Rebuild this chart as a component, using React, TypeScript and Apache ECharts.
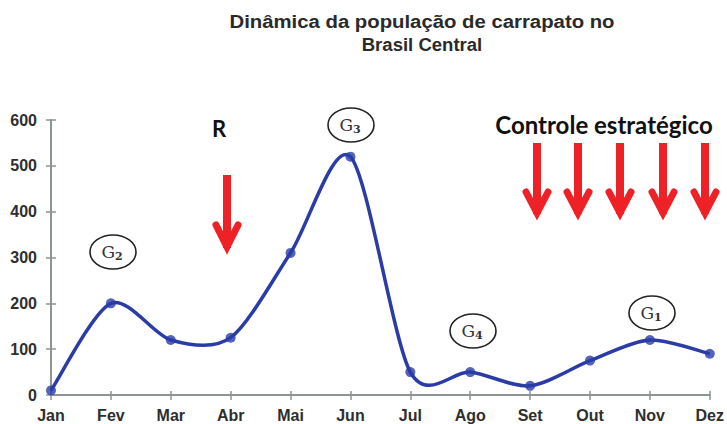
import React, { useEffect, useRef } from "react";
import * as echarts from "echarts";

const months = ["Jan", "Fev", "Mar", "Abr", "Mai", "Jun", "Jul", "Ago", "Set", "Out", "Nov", "Dez"];
const population = [10, 200, 120, 125, 310, 520, 50, 50, 20, 75, 120, 90];
const yTicks = { min: 0, max: 600, interval: 100 };
const titleLines = ["Dinâmica da população de carrapato no", "Brasil Central"];
const generations = [
  { main: "G", sub: "2", cx: 113, cy: 252 },
  { main: "G", sub: "3", cx: 351, cy: 125 },
  { main: "G", sub: "4", cx: 473, cy: 331 },
  { main: "G", sub: "1", cx: 652, cy: 313 },
];
const controlArrowsX = [537, 578, 620, 663, 705];

const RED = "#ee2226";
const BLUE = "#2b3ca6";
const AXIS = "#8c9494";

function arrow(cx: number, top: number, headStart: number, tip: number) {
  return [
    {
      type: "line",
      shape: { x1: cx, y1: top, x2: cx, y2: tip - 4 },
      style: { stroke: RED, lineWidth: 8, lineCap: "butt" },
      z: 10,
    },
    {
      type: "polyline",
      shape: { points: [[cx - 11, headStart + 2], [cx, tip - 5], [cx + 11, headStart + 2]] },
      style: { stroke: RED, lineWidth: 7, lineCap: "round", lineJoin: "miter", fill: null },
      z: 10,
    },
  ];
}

export default function App() {
  const ref = useRef<HTMLDivElement>(null);
  useEffect(() => {
    if (!ref.current) return;
    const chart = echarts.init(ref.current, undefined, { renderer: "svg" });
    const graphics: any[] = [];
    const titleScale = [1.13, 1.03];
    titleLines.forEach((t, i) => {
      graphics.push({
        type: "text",
        x: 422,
        y: 22 + i * 23,
        scaleX: titleScale[i],
        style: {
          text: t,
          fill: "#2a2a2a",
          font: "bold 18px 'Liberation Sans', Arial, sans-serif",
          align: "center",
          verticalAlign: "middle",
        },
      });
    });
    graphics.push({
      type: "text",
      x: 219,
      y: 128,
      style: {
        text: "R",
        fill: "#111",
        font: "bold 22px Lato, 'Liberation Sans', sans-serif",
        align: "center",
        verticalAlign: "middle",
      },
    });
    graphics.push({
      type: "text",
      x: 604,
      y: 124,
      style: {
        text: "Controle estratégico",
        fill: "#111",
        font: "bold 24px Lato, 'Liberation Sans', sans-serif",
        align: "center",
        verticalAlign: "middle",
      },
    });
    graphics.push(...arrow(227, 175, 223, 252));
    controlArrowsX.forEach((x) => graphics.push(...arrow(x, 143, 190, 218)));
    generations.forEach((g) => {
      graphics.push({
        type: "ellipse",
        shape: { cx: g.cx, cy: g.cy, rx: 23, ry: 17 },
        style: { fill: "#fff", stroke: "#222", lineWidth: 1.6 },
        z: 10,
      });
      graphics.push({
        type: "text",
        x: g.cx - 1,
        y: g.cy,
        style: {
          rich: {
            m: { font: "17px 'DejaVu Serif', 'Liberation Serif', serif", fill: "#333" },
            s: { font: "bold 11px 'DejaVu Serif', 'Liberation Serif', serif", fill: "#333", padding: [8, 0, 0, 0] },
          },
          text: `{m|${g.main}}{s|${g.sub}}`,
          align: "center",
          verticalAlign: "middle",
        },
        z: 11,
      });
    });

    const labelFont = {
      color: "#2e2e2e",
      fontWeight: "bold" as const,
      fontSize: 16,
      fontFamily: "'Liberation Sans', Arial, sans-serif",
    };

    chart.setOption({
      animation: false,
      backgroundColor: "#fff",
      grid: { left: 51, right: 16, top: 120, bottom: 29, containLabel: false },
      xAxis: [
        {
          type: "category",
          data: months,
          boundaryGap: false,
          axisLine: { lineStyle: { color: AXIS, width: 2 } },
          axisTick: { show: true, length: 5, lineStyle: { color: AXIS, width: 1.5 } },
          axisLabel: { ...labelFont, margin: 12, interval: 0 },
        },
        {
          type: "category",
          data: months,
          boundaryGap: false,
          position: "bottom",
          axisLine: { show: false },
          axisTick: { show: true, inside: true, length: 4, lineStyle: { color: AXIS, width: 1.5 } },
          axisLabel: { show: false },
        },
      ],
      yAxis: [
        {
          type: "value",
          min: yTicks.min,
          max: yTicks.max,
          interval: yTicks.interval,
          splitLine: { show: false },
          axisLine: { show: true, lineStyle: { color: AXIS, width: 2 } },
          axisTick: { show: true, length: 5, lineStyle: { color: AXIS, width: 1.5 } },
          axisLabel: { ...labelFont, margin: 14 },
        },
        {
          type: "value",
          min: yTicks.min,
          max: yTicks.max,
          interval: yTicks.interval,
          position: "left",
          splitLine: { show: false },
          axisLine: { show: false },
          axisTick: { show: true, inside: true, length: 5, lineStyle: { color: AXIS, width: 1.5 } },
          axisLabel: { show: false },
        },
      ],
      series: [
        {
          type: "custom",
          data: [[0, population[0]]],
          clip: false,
          silent: true,
          renderItem: (params: any, api: any) => {
            if (params.dataIndex !== 0) return null;
            const pts = population.map((v, i) => api.coord([i, v]));
            const n = pts.length;
            const k = 7;
            let d = `M${pts[0][0]},${pts[0][1]}`;
            for (let i = 0; i < n - 1; i++) {
              const p0 = pts[Math.max(0, i - 1)];
              const p1 = pts[i];
              const p2 = pts[i + 1];
              const p3 = pts[Math.min(n - 1, i + 2)];
              const c1x = p1[0] + (p2[0] - p0[0]) / k;
              const c1y = p1[1] + (p2[1] - p0[1]) / k;
              const c2x = p2[0] - (p3[0] - p1[0]) / k;
              const c2y = p2[1] - (p3[1] - p1[1]) / k;
              d += ` C${c1x},${c1y} ${c2x},${c2y} ${p2[0]},${p2[1]}`;
            }
            return {
              type: "path",
              shape: { pathData: d },
              style: { fill: null, stroke: BLUE, lineWidth: 3.5, lineJoin: "round" },
            };
          },
          z: 2,
        },
        {
          type: "scatter",
          data: population,
          symbol: "circle",
          symbolSize: 10,
          itemStyle: { color: BLUE },
          z: 3,
        },
      ],
      graphic: graphics,
    });
    return () => chart.dispose();
  }, []);
  return <div ref={ref} style={{ width: 727, height: 424, position: "absolute", left: 0, top: 0 }} />;
}
